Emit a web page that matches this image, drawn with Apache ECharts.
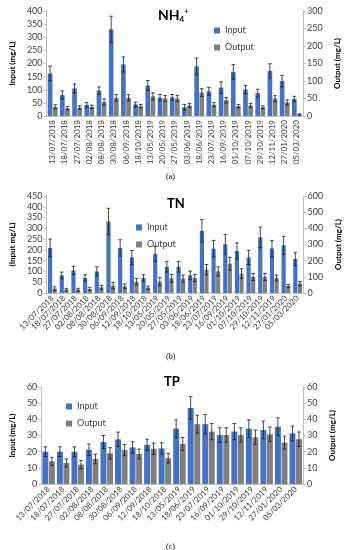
<!DOCTYPE html>
<html><head><meta charset="utf-8">
<script src="https://cdn.jsdelivr.net/npm/echarts@6/dist/echarts.min.js"></script>
<style>html,body{margin:0;padding:0;background:#fff}#c{width:350px;height:550px}</style>
</head><body><div id="c"></div>
<script>
// ---- Data: (a) NH4+ ----
const catA = ['13/07/2018','18/07/2018','27/07/2018','02/08/2018','08/08/2018','30/08/2018','06/09/2018','18/10/2018','13/05/2019','20/05/2019','27/05/2019','03/06/2019','18/06/2019','23/07/2019','16/09/2019','01/10/2019','07/10/2019','29/10/2019','12/11/2019','27/01/2020','05/03/2020'];
const inA = [162,80,105,42,97,330,196,44,116,70,71,33,189,94,108,168,101,87,172,133,65];
const inErrA = [28,16,17,9,14,50,29,9,19,12,11,11,32,15,22,28,16,15,27,22,10];
const outA = [26,22,24,26,40,52,52,28,56,50,50,30,67,32,45,28,30,25,50,39,4.5];
const outErrA = [6,5,5,5,9,9,9,5,10,9,9,6,11,6,8,5,6,4,8,7,2];
// ---- Data: (b) TN ----
const catB = ['13/07/2018','18/07/2018','27/07/2018','02/08/2018','08/08/2018','30/08/2018','06/09/2018','12/09/2018','18/10/2018','13/05/2019','20/05/2019','27/05/2019','03/06/2019','18/06/2019','23/07/2019','16/09/2019','01/10/2019','07/10/2019','29/10/2019','12/11/2019','27/01/2020','05/03/2020'];
const inB = [209,82,105,70,100,332,209,165,70,181,122,122,82,288,206,226,195,165,258,206,221,158];
const inErrB = [41,15,19,15,21,61,38,32,15,35,25,25,20,52,38,45,38,33,48,38,42,31];
const outB = [27,21,21,25,35,45,41,70,33,70,91,89,93,144,134,181,120,99,99,93,43,58];
const outErrB = [12,8,8,10,12,20,15,20,10,25,24,22,22,32,28,40,30,22,22,18,10,14];
// ---- Data: (c) TP ----
const catC = ['13/07/2018','18/07/2018','27/07/2018','02/08/2018','08/08/2018','30/08/2018','06/09/2018','12/09/2018','18/10/2018','13/05/2019','18/06/2019','23/07/2019','16/09/2019','01/10/2019','29/10/2019','12/11/2019','27/01/2020','05/03/2020'];
const inC = [20,20,20,21.2,26,27.6,22.6,24.2,22,34.2,47,37,30.3,32.4,34.2,33.4,35.4,31.3];
const inErrC = [3,3,3,3.5,4,4.5,3.5,3.5,3.5,5.5,7,6,4.5,5,5.5,5.5,5.5,4.5];
const outC = [14,13,12,15.5,19,21,18.6,21.8,16,24.8,37,32.4,30.3,30.3,28.9,30.7,25.6,27.7];
const outErrC = [2.5,2.5,2.5,3,3.5,3.5,3,3.5,3,4,5.5,5,4.5,4.5,4.5,4.5,4,4.5];

const BLUE = '#4472C4', GRAY = '#7F7F7F';
const FONT = 'Lato, sans-serif';

function errRender(gap, bgap, idx) {
  return function (params, api) {
    const x = api.value(0), v = api.value(1), e = api.value(2);
    const band = api.size([1, 0])[0];
    const usable = band * (1 - gap);
    const w = usable / (2 + bgap);
    const off = idx === 0 ? -usable / 2 + w / 2 : usable / 2 - w / 2;
    const top = api.coord([x, v + e]);
    const bot = api.coord([x, Math.max(0, v - e)]);
    const cx = top[0] + off, c = 1.8;
    const st = { stroke: '#1a1a1a', lineWidth: 0.8 };
    return { type: 'group', children: [
      { type: 'line', shape: { x1: cx, y1: top[1], x2: cx, y2: bot[1] }, style: st },
      { type: 'line', shape: { x1: cx - c, y1: top[1], x2: cx + c, y2: top[1] }, style: st },
      { type: 'line', shape: { x1: cx - c, y1: bot[1], x2: cx + c, y2: bot[1] }, style: st }
    ]};
  };
}
function errData(vals, errs) { return vals.map((v, i) => [i, v, errs[i]]); }

const yAxisBase = {
  type: 'value',
  axisLine: { show: true, lineStyle: { color: '#BFBFBF' } },
  axisTick: { show: true, length: 3, lineStyle: { color: '#BFBFBF' } },
  splitLine: { show: false },
  axisLabel: { color: '#404040', fontSize: 9, fontFamily: FONT, margin: 4 },
  nameLocation: 'middle',
  nameTextStyle: { color: '#000', fontSize: 8, fontWeight: 'bold', fontFamily: FONT }
};
function yAx(o) { return Object.assign({}, yAxisBase, o, { axisLabel: Object.assign({}, yAxisBase.axisLabel, o.axisLabel || {}) }); }
function xAx(grid, data, rotate) {
  return {
    type: 'category', gridIndex: grid, data: data,
    axisLine: { lineStyle: { color: '#BFBFBF' } },
    axisTick: { show: false },
    axisLabel: { interval: 0, rotate: rotate, fontSize: 8, color: '#404040', fontFamily: FONT, margin: 4 }
  };
}

const gaps = [0.2, 0.25, 0.14];
const bgap = 0.1;
const sets = [
  [inA, inErrA, outA, outErrA],
  [inB, inErrB, outB, outErrB],
  [inC, inErrC, outC, outErrC]
];
const series = [];
sets.forEach((s, g) => {
  const cg = Math.round(gaps[g] * 100) + '%';
  series.push({ name: 'Input', type: 'bar', xAxisIndex: g, yAxisIndex: g * 2, data: s[0], itemStyle: { color: BLUE }, barGap: '10%', barCategoryGap: cg });
  series.push({ name: 'Output', type: 'bar', xAxisIndex: g, yAxisIndex: g * 2 + 1, data: s[2], itemStyle: { color: GRAY }, barGap: '10%', barCategoryGap: cg });
  series.push({ name: 'errIn' + g, type: 'custom', xAxisIndex: g, yAxisIndex: g * 2, renderItem: errRender(gaps[g], bgap, 0), data: errData(s[0], s[1]), encode: { x: 0, y: 1 }, z: 5 });
  series.push({ name: 'errOut' + g, type: 'custom', xAxisIndex: g, yAxisIndex: g * 2 + 1, renderItem: errRender(gaps[g], bgap, 1), data: errData(s[2], s[3]), encode: { x: 0, y: 1 }, z: 5 });
});

const legendBase = { orient: 'vertical', icon: 'rect', itemWidth: 6, itemHeight: 6, itemGap: 8, data: ['Input', 'Output'], textStyle: { fontSize: 9, color: '#404040', fontFamily: FONT }, selectedMode: false };

const option = {
  animation: false,
  title: [
    { text: '{a|NH}{b|4}{c|+}', left: 153, top: 2, textStyle: { rich: {
      a: { fontSize: 14, fontWeight: 'bold', fontFamily: FONT, color: '#000', lineHeight: 16, verticalAlign: 'middle' },
      b: { fontSize: 8, fontWeight: 'bold', fontFamily: FONT, color: '#000', lineHeight: 8, verticalAlign: 'bottom' },
      c: { fontSize: 8, fontWeight: 'bold', fontFamily: FONT, color: '#000', lineHeight: 8, verticalAlign: 'top' }
    } } },
    { text: 'TN', left: 162, top: 192, textStyle: { fontSize: 13, fontWeight: 'bold', fontFamily: FONT, color: '#000' } },
    { text: 'TP', left: 159, top: 370, textStyle: { fontSize: 13, fontWeight: 'bold', fontFamily: FONT, color: '#000' } },
    { text: '(a)', left: 161, top: 168, textStyle: { fontSize: 8, fontWeight: 'normal', fontFamily: 'Liberation Serif, serif', color: '#000' } },
    { text: '(b)', left: 161, top: 348, textStyle: { fontSize: 8, fontWeight: 'normal', fontFamily: 'Liberation Serif, serif', color: '#000' } },
    { text: '(c)', left: 161, top: 538, textStyle: { fontSize: 8, fontWeight: 'normal', fontFamily: 'Liberation Serif, serif', color: '#000' } }
  ],
  legend: [
    Object.assign({}, legendBase, { left: 209, top: 21 }),
    Object.assign({}, legendBase, { left: 131, top: 218 }),
    Object.assign({}, legendBase, { left: 61, top: 397 })
  ],
  grid: [
    { left: 38, right: 47, top: 11, height: 105 },
    { left: 28, right: 33, top: 196, height: 97 },
    { left: 38, right: 47, top: 387, height: 97 }
  ],
  xAxis: [xAx(0, catA, 90), xAx(1, catB, 45), xAx(2, catC, 45)],
  yAxis: [
    yAx({ gridIndex: 0, min: 0, max: 400, interval: 50, name: 'Input (mg/L)', nameGap: 26 }),
    yAx({ gridIndex: 0, min: 0, max: 300, interval: 50, name: 'Output (mg/L)', nameGap: 26, position: 'right' }),
    yAx({ gridIndex: 1, min: 0, max: 450, interval: 50, name: '(Input mg/L)', nameGap: 21 }),
    yAx({ gridIndex: 1, min: 0, max: 600, interval: 100, name: 'Output (mg/L)', nameGap: 26, position: 'right' }),
    yAx({ gridIndex: 2, min: 0, max: 60, interval: 10, name: 'Input (mg/L)', nameGap: 20 }),
    yAx({ gridIndex: 2, min: 0, max: 60, interval: 10, name: 'Output (mg/L)', nameGap: 22, position: 'right' })
  ],
  series: series
};
echarts.init(document.getElementById('c'), null, { renderer: 'canvas' }).setOption(option);
</script></body></html>
